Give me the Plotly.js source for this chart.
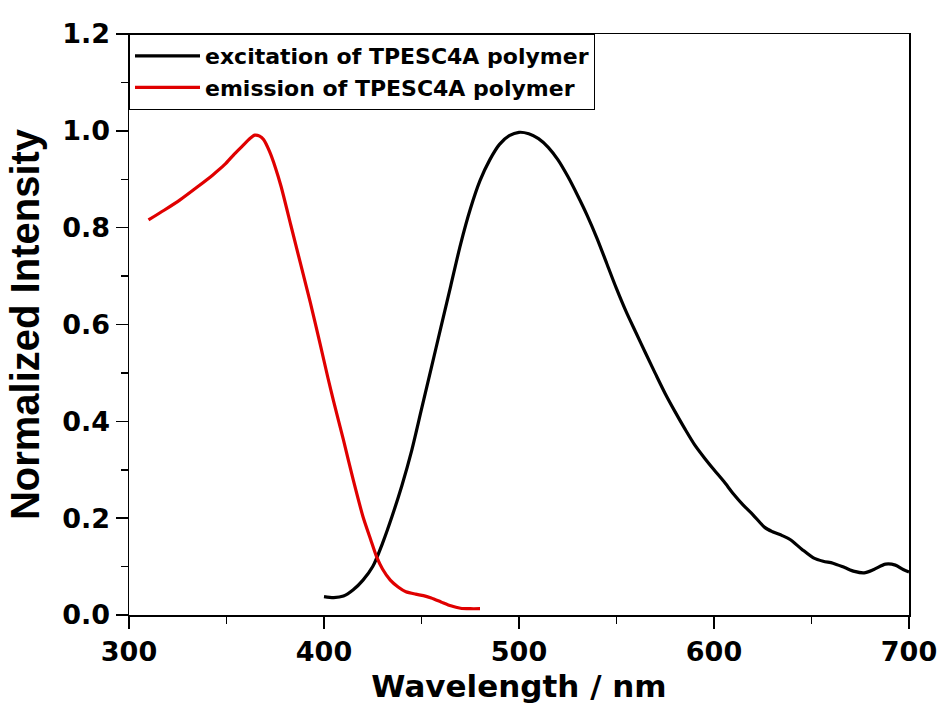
<!DOCTYPE html>
<html>
<head>
<meta charset="utf-8">
<script src="https://cdn.plot.ly/plotly-3.0.1.min.js"></script>
<style>html,body{margin:0;padding:0;background:#fff;}#chart{width:939px;height:706px;}</style>
</head>
<body>
<div id="chart"></div>
<script>
// Excitation spectrum (black)
const excWavelength = [400, 405, 410, 415, 420, 425, 430, 435, 440, 445, 450, 455, 460, 465, 470, 475, 480, 485, 490, 495, 500, 505, 510, 515, 520, 525, 530, 535, 540, 545, 550, 555, 560, 565, 570, 575, 580, 585, 590, 595, 600, 605, 610, 615, 620, 626, 630, 635, 639, 645, 651, 656, 661, 667, 672, 677, 682, 688, 693, 697, 700];
const excIntensity = [0.038, 0.036, 0.039, 0.052, 0.072, 0.100, 0.148, 0.205, 0.268, 0.340, 0.425, 0.510, 0.595, 0.680, 0.765, 0.838, 0.897, 0.940, 0.972, 0.990, 0.997, 0.994, 0.984, 0.966, 0.940, 0.906, 0.867, 0.825, 0.778, 0.726, 0.674, 0.626, 0.583, 0.540, 0.498, 0.457, 0.420, 0.385, 0.352, 0.325, 0.300, 0.276, 0.250, 0.227, 0.207, 0.181, 0.172, 0.164, 0.156, 0.136, 0.118, 0.111, 0.107, 0.098, 0.090, 0.087, 0.094, 0.105, 0.103, 0.094, 0.089];

// Emission spectrum (red)
const emWavelength = [310, 318, 326, 335, 343, 349, 354, 358, 362, 364.5, 367, 369, 372, 375, 378, 383, 388, 393, 398, 402, 405, 410, 415, 420, 424, 427, 430, 434, 438, 442, 447, 451, 455, 460, 465, 470, 475, 480];
const emIntensity = [0.816, 0.836, 0.857, 0.884, 0.909, 0.930, 0.952, 0.968, 0.984, 0.991, 0.989, 0.982, 0.958, 0.925, 0.885, 0.805, 0.725, 0.645, 0.56, 0.49, 0.44, 0.361, 0.279, 0.203, 0.155, 0.12, 0.095, 0.072, 0.058, 0.048, 0.043, 0.040, 0.035, 0.027, 0.019, 0.014, 0.013, 0.013];

const seriesNames = ['excitation of TPESC4A polymer', 'emission of TPESC4A polymer'];
const xTitle = 'Wavelength / nm';
const yTitle = 'Normalized Intensity';

const traces = [
  {x: excWavelength, y: excIntensity, name: seriesNames[0], type: 'scatter', mode: 'lines',
   line: {color: '#000000', width: 3.2, shape: 'spline', smoothing: 0.8}},
  {x: emWavelength, y: emIntensity, name: seriesNames[1], type: 'scatter', mode: 'lines',
   line: {color: '#e00000', width: 3.2, shape: 'spline', smoothing: 0.6}}
];

const tickFont = {family: 'DejaVu Sans', size: 27, color: '#000', weight: 'bold'};

const layout = {
  width: 939, height: 706,
  margin: {l: 129, r: 30, t: 34, b: 91},
  paper_bgcolor: '#fff', plot_bgcolor: '#fff',
  showlegend: true,
  xaxis: {
    range: [300, 700], dtick: 100, tick0: 300,
    ticks: 'outside', ticklen: 12, tickwidth: 1.5, tickcolor: '#000',
    minor: {dtick: 50, ticks: 'outside', ticklen: 7, tickwidth: 1.5, tickcolor: '#000', showgrid: false},
    showline: true, linewidth: 1.5, linecolor: '#000', mirror: true,
    showgrid: false, zeroline: false,
    tickfont: tickFont,
    title: {text: xTitle, font: {family: 'DejaVu Sans', size: 31, color: '#000', weight: 'bold'}, standoff: 9}
  },
  yaxis: {
    range: [0, 1.2], dtick: 0.2, tick0: 0, tickformat: '.1f',
    ticks: 'outside', ticklen: 12, tickwidth: 1.5, tickcolor: '#000',
    minor: {dtick: 0.1, ticks: 'outside', ticklen: 7, tickwidth: 1.5, tickcolor: '#000', showgrid: false},
    showline: true, linewidth: 1.5, linecolor: '#000', mirror: true,
    showgrid: false, zeroline: false,
    tickfont: tickFont,
    title: {text: yTitle, font: {family: 'Liberation Sans', size: 40, color: '#000', weight: 'bold'}, standoff: 10}
  },
  legend: {
    x: 0, y: 1, xanchor: 'left', yanchor: 'top',
    bgcolor: '#fff', bordercolor: '#000', borderwidth: 1,
    font: {family: 'DejaVu Sans', size: 22, color: '#000', weight: 'bold'},
    itemwidth: 65
  }
};

Plotly.newPlot('chart', traces, layout, {displayModeBar: false, staticPlot: true});
</script>
</body>
</html>
